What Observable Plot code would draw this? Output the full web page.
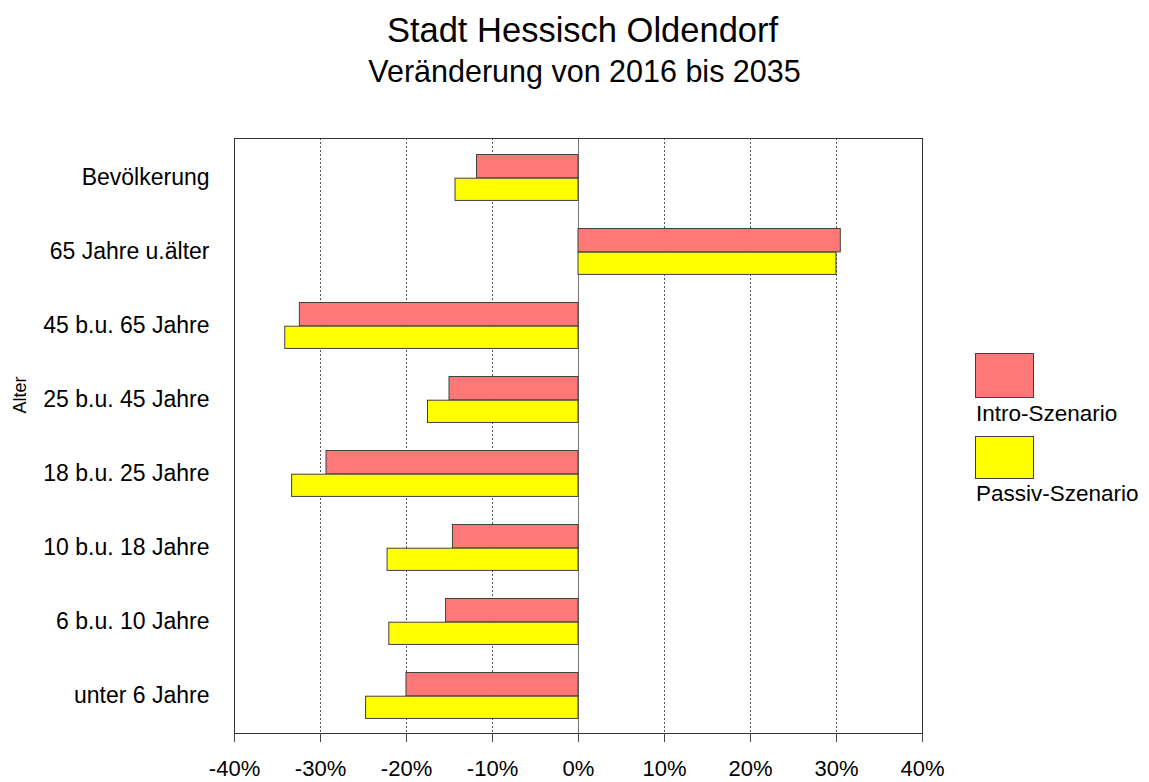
<!DOCTYPE html>
<html>
<head>
<meta charset="utf-8">
<script src="https://cdn.jsdelivr.net/npm/d3@7"></script>
<script src="https://cdn.jsdelivr.net/npm/@observablehq/plot@0.6"></script>
<style>
  html, body { margin: 0; padding: 0; background: #fff; }
  body { font-family: "Liberation Sans", Arial, sans-serif; color: #000; }
  #page { position: relative; width: 1149px; height: 782px; overflow: hidden; }
  #head { position: relative; width: 1149px; height: 100px; }
  .t { position: absolute; left: 8px; width: 1149px; text-align: center; line-height: 1; white-space: nowrap; }
  #title { top: 13px; font-size: 34.5px; }
  #subtitle { top: 56px; font-size: 30.5px; left: 10px; }
  .sw { position: absolute; left: 975px; width: 59px; box-sizing: border-box; border: 1px solid #404040; }
  .lt { position: absolute; left: 976px; font-size: 22.5px; line-height: 1; white-space: nowrap; }
  #alter { position: absolute; left: 20px; top: 395px; font-size: 18px; line-height: 1;
           transform: translate(-50%, -50%) rotate(-90deg); white-space: nowrap; }
</style>
</head>
<body>
<div id="page">
  <div id="head">
    <div class="t" id="title">Stadt Hessisch Oldendorf</div>
    <div class="t" id="subtitle">Veränderung von 2016 bis 2035</div>
  </div>
  <div id="chart"></div>
  <div id="alter">Alter</div>
  <div id="legend"></div>
</div>
<script>
// ---- data ----
const categories = [
  "Bevölkerung",
  "65 Jahre u.älter",
  "45 b.u. 65 Jahre",
  "25 b.u. 45 Jahre",
  "18 b.u. 25 Jahre",
  "10 b.u. 18 Jahre",
  "6 b.u. 10 Jahre",
  "unter 6 Jahre"
];
const seriesNames = ["Intro-Szenario", "Passiv-Szenario"];
const introValues  = [-11.8, 30.5, -32.4, -15.0, -29.3, -14.6, -15.4, -20.0];
const passivValues = [-14.3, 30.0, -34.1, -17.5, -33.3, -22.2, -22.0, -24.7];
const xTicks = [-40, -30, -20, -10, 0, 10, 20, 30, 40];
const gridTicks = [-30, -20, -10, 10, 20, 30];
const colors = ["#ff7878", "#ffff00"];

const intro = categories.map((c, i) => ({cat: c, value: introValues[i]}));
const passiv = categories.map((c, i) => ({cat: c, value: passivValues[i]}));

const W = 1149, H = 682;
const mTop = 38, mBottom = 49, mLeft = 234, mRight = 227;
const band = (H - mTop - mBottom) / categories.length;

const chart = Plot.plot({
  width: W,
  height: H,
  marginTop: mTop,
  marginBottom: mBottom,
  marginLeft: mLeft,
  marginRight: mRight,
  style: {fontFamily: "'Liberation Sans', Arial, sans-serif", color: "#000", background: "#fff"},
  x: {domain: [-40, 40]},
  y: {type: "band", domain: categories, padding: 0},
  marks: [
    Plot.ruleX(gridTicks, {stroke: "#555", strokeWidth: 1, strokeDasharray: "2,2"}),
    Plot.ruleX([0], {stroke: "#777", strokeWidth: 1}),
    Plot.barX(intro, {
      y: "cat", x1: 0, x2: "value",
      fill: colors[0], stroke: "#404040", strokeWidth: 1,
      insetTop: 14.5, insetBottom: band - 38.2
    }),
    Plot.barX(passiv, {
      y: "cat", x1: 0, x2: "value",
      fill: colors[1], stroke: "#404040", strokeWidth: 1,
      insetTop: 38.2, insetBottom: band - 60.8
    }),
    Plot.frame({stroke: "#333", strokeWidth: 1}),
    Plot.axisX({
      ticks: xTicks, tickFormat: d => d + "%",
      tickSize: 9, tickPadding: 18, fontSize: 22,
      stroke: "#444", label: null
    }),
    Plot.axisY({
      tickSize: 0, tickPadding: 25, fontSize: 23, label: null
    })
  ]
});
document.getElementById("chart").appendChild(chart);

// ---- legend (HTML) ----
const legend = document.getElementById("legend");
const legendRows = [
  {swTop: 353, swH: 45, textTop: 403},
  {swTop: 436, swH: 43, textTop: 483}
];
seriesNames.forEach((name, i) => {
  const sw = document.createElement("div");
  sw.className = "sw";
  sw.style.top = legendRows[i].swTop + "px";
  sw.style.height = legendRows[i].swH + "px";
  sw.style.background = colors[i];
  legend.appendChild(sw);
  const t = document.createElement("div");
  t.className = "lt";
  t.style.top = legendRows[i].textTop + "px";
  t.textContent = name;
  legend.appendChild(t);
});
</script>
</body>
</html>
